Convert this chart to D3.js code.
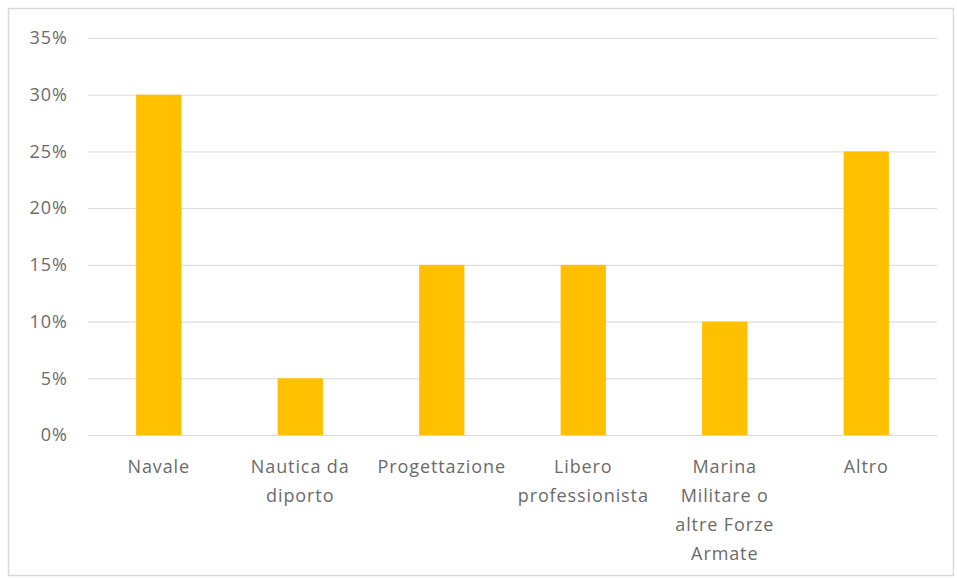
<!DOCTYPE html>
<html><head><meta charset="utf-8">
<script src="https://cdn.jsdelivr.net/npm/d3@7"></script>
<style>body{margin:0;background:#fff;} svg{display:block;}</style>
</head><body>
<svg id="c" width="957" height="578"></svg>
<script>
const categories = [["Navale"],["Nautica da","diporto"],["Progettazione"],["Libero","professionista"],["Marina","Militare o","altre Forze","Armate"],["Altro"]];
const values = [0.30, 0.05, 0.15, 0.15, 0.10, 0.25];
const yTicks = [0,0.05,0.10,0.15,0.20,0.25,0.30,0.35];

(function(){
const svg = d3.select("#c");
const font = "'Open Sans', sans-serif";
svg.append("rect").attr("x",8.5).attr("y",8.5).attr("width",945).attr("height",567)
  .attr("fill","#fff").attr("stroke","#d9d9d9").attr("stroke-width",1.5);

const pl=88, pr=937, pt=38, pb=435;
const x = d3.scaleBand().domain(d3.range(categories.length)).range([pl,pr]).paddingInner(0.68).paddingOuter(0.34);
const y = d3.scaleLinear().domain([0,0.35]).range([pb,pt]);

const yAxis = d3.axisLeft(y).tickValues(yTicks).tickFormat(d3.format(".0%")).tickSize(-(pr-pl)).tickPadding(20);
const gy = svg.append("g").attr("transform",`translate(${pl},0)`).call(yAxis);
gy.select(".domain").remove();
gy.selectAll(".tick line").attr("stroke","#d9d9d9").attr("stroke-width",1);
gy.selectAll(".tick text").attr("fill","#6b6b6b").style("font-family",font).style("font-size","18px").style("letter-spacing","1px");

svg.append("g").selectAll("rect").data(values).join("rect")
  .attr("x",(d,i)=>x(i)).attr("width",x.bandwidth())
  .attr("y",d=>y(d)).attr("height",d=>y(0)-y(d)).attr("fill","#FFC000");

const xAxis = d3.axisBottom(x).tickSize(0).tickFormat(()=>"");
const gx = svg.append("g").attr("transform",`translate(0,${pb})`).call(xAxis);
gx.select(".domain").remove();
gx.selectAll(".tick").each(function(i){
  const t = d3.select(this).append("text").attr("fill","#6b6b6b").attr("text-anchor","middle")
    .style("font-family",font).style("font-size","18px").style("letter-spacing","0.9px");
  categories[i].forEach((line,k)=>{
    t.append("tspan").attr("x",0).attr("y",38+k*29).text(line);
  });
});
})();
</script>
</body></html>
